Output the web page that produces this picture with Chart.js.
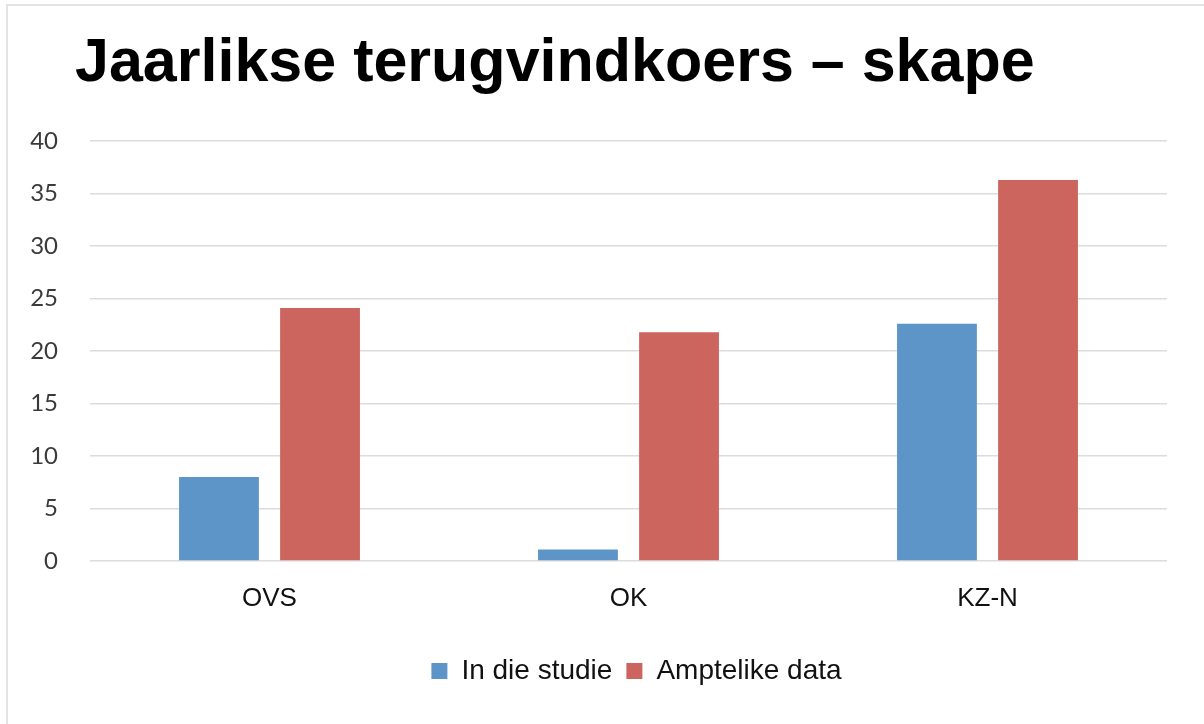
<!DOCTYPE html>
<html>
<head>
<meta charset="utf-8">
<script src="https://cdn.jsdelivr.net/npm/chart.js@4"></script>
<style>
    html, body { margin: 0; padding: 0; background: #ffffff; }
    #wrap { position: relative; width: 1204px; height: 724px; }
    #frame {
        position: absolute; left: 6px; top: 4px; right: 0; bottom: 0;
        border-top: 2px solid #e3e3e3; border-left: 2px solid #e3e3e3;
        pointer-events: none;
    }
</style>
</head>
<body>
<div id="wrap">
    <canvas id="chart" width="1204" height="724"></canvas>
    <div id="frame"></div>
</div>
<script>
const titleText = 'Jaarlikse terugvindkoers \u2013 skape';
const categories = ['OVS', 'OK', 'KZ-N'];
const studieValues = [8.0, 1.1, 22.6];
const amptelikValues = [24.1, 21.8, 36.3];
const yTicks = [0, 5, 10, 15, 20, 25, 30, 35, 40];

// nudge title and legend sideways after layout, the plot area stays put
const shiftBlocks = {
    id: 'shiftBlocks',
    afterLayout(chart) {
        chart.titleBlock.left += 75;
        chart.legend.left += 53;
        chart.legend.right += 53;
    }
};

const ctx = document.getElementById('chart').getContext('2d');
const chart = new Chart(ctx, {
    type: 'bar',
    data: {
        labels: categories,
        datasets: [
            {
                label: 'In die studie',
                data: studieValues,
                backgroundColor: '#5e95c9',
                categoryPercentage: 0.563,
                barPercentage: 0.79,
            },
            {
                label: 'Amptelike data',
                data: amptelikValues,
                backgroundColor: '#cd655f',
                categoryPercentage: 0.563,
                barPercentage: 0.79,
            }
        ]
    },
    options: {
        responsive: false,
        animation: false,
        layout: {
            padding: { left: 0, right: 37, top: 0, bottom: 29 }
        },
        scales: {
            x: {
                grid: { display: false },
                border: { display: false },
                ticks: {
                    color: '#111111',
                    padding: 14,
                    font: { family: 'Liberation Sans', size: 26 }
                },
                afterFit: (scale) => { scale.height = 82; }
            },
            y: {
                min: 0,
                max: 40,
                afterBuildTicks: (scale) => {
                    scale.ticks = yTicks.map(v => ({ value: v }));
                },
                grid: {
                    color: '#dcdcdc',
                    lineWidth: 1.5,
                    drawTicks: false
                },
                border: { display: false },
                ticks: {
                    color: '#3a3a3a',
                    padding: 32,
                    font: { family: 'Lato', size: 24 }
                },
                afterFit: (scale) => { scale.width = 90; }
            }
        },
        plugins: {
            title: {
                display: true,
                text: titleText,
                align: 'start',
                color: '#000000',
                font: { family: 'Liberation Sans', size: 61, weight: 'bold' },
                padding: { top: 28, bottom: 40 }
            },
            legend: {
                position: 'bottom',
                labels: {
                    color: '#111111',
                    boxWidth: 16,
                    boxHeight: 16,
                    padding: 14,
                    font: { family: 'Liberation Sans', size: 28 }
                }
            },
            tooltip: { enabled: false }
        }
    },
    plugins: [shiftBlocks]
});
</script>
</body>
</html>
